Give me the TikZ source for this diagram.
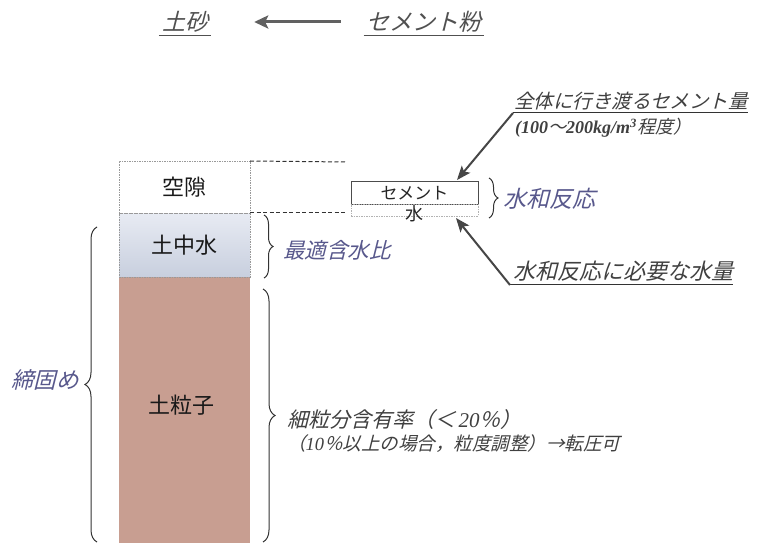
\documentclass[tikz,border=0pt]{standalone}
\usepackage{fontspec}
\setmainfont{Liberation Serif}
\newfontfamily\jp{Noto Sans CJK JP}
\newfontfamily\jpit{Noto Sans CJK JP}[FakeSlant=0.25]
\usetikzlibrary{arrows.meta,decorations.pathreplacing}
\definecolor{lab}{RGB}{88,88,140}
\definecolor{soil}{RGB}{200,158,145}
\definecolor{ttl}{RGB}{80,80,80}
\definecolor{arrc}{RGB}{70,70,70}
\definecolor{wtop}{RGB}{232,235,243}
\definecolor{wbot}{RGB}{200,207,222}
\tikzset{
  boxtxt/.style={font=\jp\fontsize{22}{26}\selectfont, text=black!90},
  column/.style={minimum width=131, inner sep=0, outer sep=0},
  dotbox/.style={draw=gray!80, dash pattern=on 1.5pt off 1pt, line width=0.8pt},
  label/.style={font=\jpit\fontsize{21.5}{24}\selectfont, text=lab, inner sep=0},
  note/.style={font=\jpit\fontsize{21}{24}\selectfont, text=black!75, inner sep=0},
  smallnote/.style={font=\jpit\fontsize{18}{22}\selectfont, text=black!75, inner sep=0},
  ttltxt/.style={font=\jpit\fontsize{23}{26}\selectfont, text=ttl, inner sep=0},
  brc/.style={decorate, decoration={brace, amplitude=#1}, draw=black!80, line width=1pt},
  arr/.style={draw=arrc, line width=2pt, -{Stealth[length=14pt,width=11pt,inset=3pt]}},
}
\begin{document}
\begin{tikzpicture}[x=1pt,y=-1pt]
\useasboundingbox (0,0) rectangle (761,545);
\fill[white] (0,0) rectangle (761,545);

% title
\node[ttltxt] (sand) at (185,22) {土砂};
\node[ttltxt] (cpow) at (424,22) {セメント粉};
\draw[ttl, line width=0.8pt] ([xshift=-3pt,yshift=-3pt]sand.south west) -- ([xshift=3pt,yshift=-3pt]sand.south east);
\draw[ttl, line width=0.8pt] ([xshift=-3pt,yshift=-3pt]cpow.south west) -- ([xshift=3pt,yshift=-3pt]cpow.south east);
\draw[draw=ttl!90, line width=3pt, -{Stealth[length=14pt,width=13pt,inset=3pt]}] ([xshift=-26pt]cpow.west) -- ([xshift=46pt]sand.east);

% column
\node[column, minimum height=266, fill=soil] (soilb) at (184.5,410) {};
\node[boxtxt] at (181,405) (soilt) {土粒子};
\node[column, minimum height=64, top color=wtop, bottom color=wbot, dotbox] (water) at (184.5,245) {};
\node[boxtxt] at (184.5,245) (watert) {土中水};
\node[column, minimum height=52, fill=white, dotbox] (void) at (184.5,187) {};
\node[boxtxt] at (184.5,187) (voidt) {空隙};

\coordinate (d1) at (347,162);
\coordinate (d2) at (347,213);
\draw[black!80, line width=1pt, dash pattern=on 4pt off 2.5pt] (void.north east) -- (d1);
\draw[black!80, line width=1pt, dash pattern=on 4pt off 2.5pt] (void.south east) -- (d2);

% cement and water
\node[draw=gray!60, dash pattern=on 1.5pt off 1pt, line width=0.8pt, fill=white, minimum width=127, minimum height=12, inner sep=0] (wstrip) at (414.5,210) {};
\node[draw=black!70, line width=0.8pt, fill=white, minimum width=127, minimum height=23, inner sep=0] (cement) at (414.5,192.5) {};
\draw[gray!70, dash pattern=on 1.5pt off 1pt, line width=0.8pt] (cement.south west) -- (cement.south east);
\node[font=\jp\fontsize{17}{20}\selectfont, text=black!85, inner sep=0] (cementt) at (414.5,193) {セメント};
\node[font=\jp\fontsize{18}{20}\selectfont, text=black!85, inner sep=0] (watert2) at (414.5,214) {水};

% braces
\draw[brc=9] (489,178) -- (489,218);
\node[label, anchor=west, font=\jpit\fontsize{23}{26}\selectfont] (hyd) at (503,199) {水和反応};
\draw[brc=9] (264,215) -- (264,278);
\node[label, anchor=west] (opt) at (283,250) {最適含水比};
\draw[brc=12] (263,289) -- (263,542);
\node[note, anchor=west, font=\jpit\fontsize{21}{26}\selectfont] (fine1) at (287,420) {細粒分含有率（＜\,{\rmfamily\itshape 20}％）};
\node[smallnote, anchor=west, font=\jpit\fontsize{18.5}{22}\selectfont] (fine2) at (287,444) {（{\rmfamily\itshape 10}％以上の場合，粒度調整）→転圧可};
\draw[brc=12] (97,542) -- (97,227);
\node[label, anchor=east, font=\jpit\fontsize{22.5}{26}\selectfont] (comp) at (79,380) {締固め};

% top-right annotation
\node[note, anchor=south west, font=\jpit\fontsize{19.5}{24}\selectfont] (all) at (514,110) {全体に行き渡るセメント量};
\draw[black!80, line width=1pt] (all.south west) ++(-1,3) coordinate (a1s) -- ([yshift=-3pt]all.south east);
\node[smallnote, anchor=west] (all2) at (515,128) {{\rmfamily\itshape\bfseries (100}～{\rmfamily\itshape\bfseries 200kg/m\textsuperscript{3}}程度）};
\coordinate (t1) at (457,180);
\draw[arr] (a1s) -- (t1);

% bottom-right annotation
\node[note, anchor=south west, font=\jpit\fontsize{22}{26}\selectfont] (need) at (513,282) {水和反応に必要な水量};
\draw[black!80, line width=1pt] (need.south west) ++(-3,3) coordinate (a2s) -- ([yshift=-3pt]need.south east);
\coordinate (t2) at (456,218);
\draw[arr] (a2s) -- (t2);
\end{tikzpicture}
\end{document}
